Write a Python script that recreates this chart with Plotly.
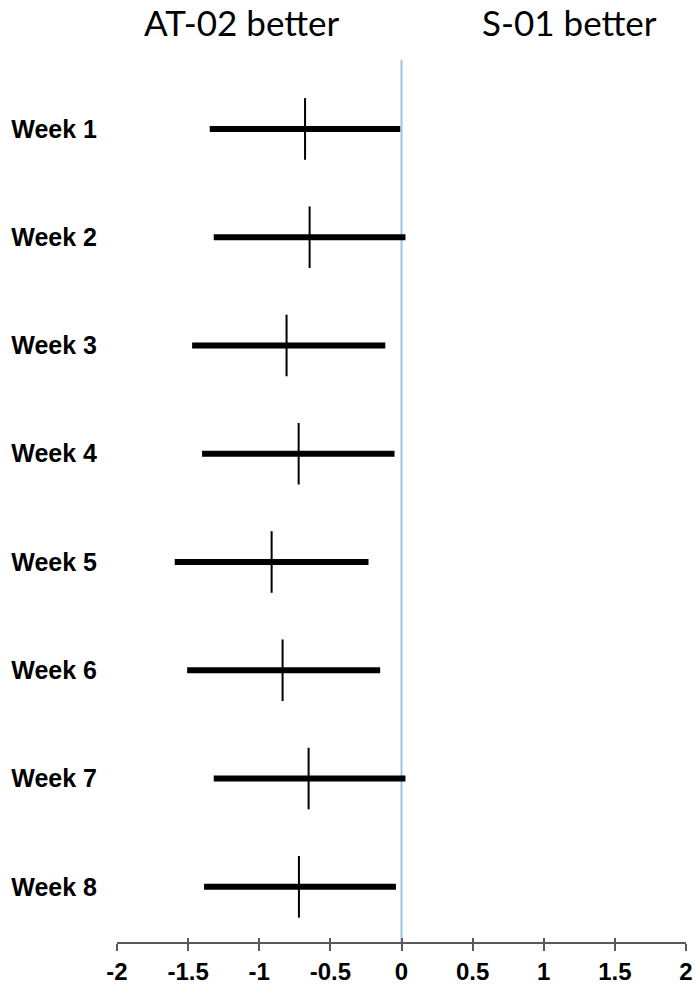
import plotly.graph_objects as go

weeks = ['Week 1', 'Week 2', 'Week 3', 'Week 4', 'Week 5', 'Week 6', 'Week 7', 'Week 8']
mean_diff = [-0.678, -0.646, -0.808, -0.723, -0.913, -0.836, -0.653, -0.721]
ci_low = [-1.348, -1.320, -1.472, -1.402, -1.594, -1.507, -1.320, -1.388]
ci_high = [-0.009, 0.028, -0.114, -0.049, -0.232, -0.150, 0.028, -0.039]
x_ticks = [-2, -1.5, -1, -0.5, 0, 0.5, 1, 1.5, 2]
side_labels = ['AT-02 better', 'S-01 better']
side_pos = [-1.12, 1.18]

ypos = list(range(1, len(weeks) + 1))

fig = go.Figure()

fig.add_trace(go.Scatter(
    x=mean_diff, y=ypos, mode='markers',
    marker=dict(symbol='line-ns-open', size=44, color='black', line=dict(width=2, color='black')),
    error_x=dict(type='data', symmetric=False,
                 array=[h - m for h, m in zip(ci_high, mean_diff)],
                 arrayminus=[m - l for m, l in zip(mean_diff, ci_low)],
                 color='black', thickness=6, width=0),
    showlegend=False, hoverinfo='skip'))

# reference line at zero
fig.add_shape(type='line', xref='x', yref='paper', x0=0, x1=0, y0=0, y1=1,
              line=dict(color='#9dc3e6', width=2), layer='below')

for txt, xp in zip(side_labels, side_pos):
    fig.add_annotation(text=txt, x=xp, xref='x', y=1.0442, yref='paper', yshift=-1,
                       xanchor='center', yanchor='middle', showarrow=False,
                       font=dict(family='Lato', size=35, color='black'))

fig.update_layout(
    width=700, height=993, margin=dict(l=116.7, r=14, t=60, b=50.5, autoexpand=False),
    plot_bgcolor='white', paper_bgcolor='white',
    xaxis=dict(range=[-2, 2], tickvals=x_ticks, ticktext=[f'{v:g}' for v in x_ticks],
               showgrid=False, zeroline=False, showline=True, linecolor='#595959', linewidth=1.5,
               ticks='outside', ticklen=7, tickwidth=1.5, tickcolor='#595959', automargin=False,
               tickfont=dict(family='Liberation Sans', size=24, color='black', weight='bold')),
    xaxis2=dict(matches='x', overlaying='x', anchor='y', side='bottom', range=[-2, 2],
                tickvals=x_ticks, showticklabels=False, showgrid=False, zeroline=False,
                ticks='inside', ticklen=4.5, tickwidth=1.5, tickcolor='#595959', automargin=False),
    yaxis=dict(range=[8.51, 0.363], tickvals=ypos, ticktext=weeks, showgrid=False,
               zeroline=False, showline=False, ticks='', ticklabelstandoff=19, automargin=False,
               tickfont=dict(family='Liberation Sans', size=25, color='black', weight='bold')),
)

# invisible trace to bring in the second x axis (ticks above the line)
fig.add_trace(go.Scatter(x=[None], y=[None], xaxis='x2', showlegend=False, hoverinfo='skip'))

# drop the default 8px page margin so the figure sits at the window corner
fig.write_html('out.html', config={'displayModeBar': False},
               post_script="document.body.style.margin='0';")
